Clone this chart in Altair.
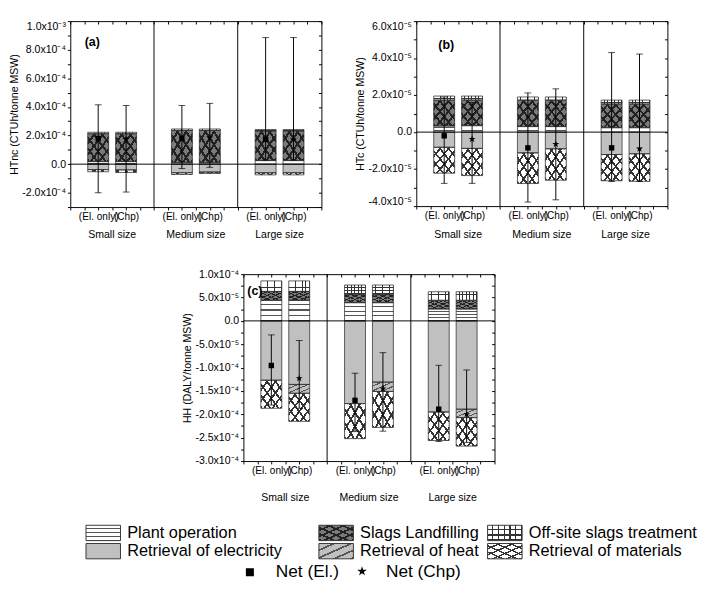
import altair as alt
import pandas as pd

FONT = "Liberation Sans"
CLEAR = "rgba(0,0,0,0)"
STAR = ("M0,-1L0.2245,-0.309L0.951,-0.309L0.363,0.118L0.588,0.809L0,0.382"
        "L-0.588,0.809L-0.363,0.118L-0.951,-0.309L-0.2245,-0.309Z")

# ---------------- data ----------------
bar_labels = ["(El. only)", "(Chp)", "(El. only)", "(Chp)", "(El. only)", "(Chp)"]
bar_kind = ["El", "Chp", "El", "Chp", "El", "Chp"]
bar_pos = [2, 4, 8, 10, 14, 16]
group_names = ["Small size", "Medium size", "Large size"]
group_pos = [3, 9, 15]
separators = [6, 12]
categories = ["Plant operation", "Slags Landfilling", "Off-site slags treatment",
              "Retrieval of electricity", "Retrieval of heat", "Retrieval of materials"]

# Panel (a): HTnc, in 1e-4 CTUh/tonne MSW
a_plant = [0.18, 0.18, 0.10, 0.10, 0.25, 0.25]
a_slags = [1.95, 1.95, 2.26, 2.26, 2.07, 2.07]
a_offsite = [0.10, 0.10, 0.10, 0.10, 0.10, 0.10]
a_elec = [-0.38, -0.40, -0.60, -0.55, -0.60, -0.60]
a_heat = [0, 0, 0, 0, 0, 0]
a_mat = [-0.15, -0.18, -0.12, -0.10, -0.15, -0.15]
a_net = [1.79, 1.75, 1.80, 1.85, 1.74, 1.74]
a_lo = [-2.00, -1.95, -0.31, -0.22, 0.29, 0.29]
a_hi = [4.15, 4.10, 4.10, 4.25, 8.85, 8.85]
a_ticks = [-3, -2, -1, 0, 1, 2, 3, 4, 5, 6, 7, 8, 9, 10]
a_label_vals = [-2, 0, 2, 4, 6, 8, 10]
a_label_txt = ["-2.0x10⁻⁴", "0.0", "2.0x10⁻⁴", "4.0x10⁻⁴", "6.0x10⁻⁴", "8.0x10⁻⁴", "1.0x10⁻³"]

# Panel (b): HTc, in 1e-5 CTUh/tonne MSW
b_plant = [0.33, 0.35, 0.30, 0.30, 0.24, 0.24]
b_slags = [1.40, 1.38, 1.43, 1.43, 1.28, 1.28]
b_offsite = [0.22, 0.22, 0.17, 0.17, 0.21, 0.21]
b_elec = [-0.82, -0.88, -1.12, -0.90, -1.21, -1.17]
b_heat = [0, 0, 0, 0, 0, 0]
b_mat = [-1.40, -1.47, -1.66, -1.70, -1.42, -1.49]
b_net = [-0.20, -0.38, -0.85, -0.65, -0.85, -0.90]
b_lo = [-2.77, -2.77, -3.78, -3.66, -2.67, -2.67]
b_hi = [1.90, 1.60, 2.12, 2.34, 4.30, 4.22]
b_ticks = [-4, -3, -2, -1, 0, 1, 2, 3, 4, 5, 6]
b_label_vals = [-4, -2, 0, 2, 4, 6]
b_label_txt = ["-4.0x10⁻⁵", "-2.0x10⁻⁵", "0.0", "2.0x10⁻⁵", "4.0x10⁻⁵", "6.0x10⁻⁵"]

# Panel (c): HH, in 1e-5 DALY/tonne MSW
c_plant = [4.40, 4.40, 3.90, 3.90, 2.55, 2.55]
c_slags = [1.90, 1.90, 1.86, 1.86, 1.85, 1.85]
c_offsite = [2.26, 2.26, 1.92, 1.92, 1.84, 1.84]
c_elec = [-12.7, -13.6, -17.7, -13.1, -19.5, -18.9]
c_heat = [0, -1.9, 0, -2.0, 0, -1.8]
c_mat = [-6.0, -6.0, -7.5, -7.7, -6.1, -6.1]
c_net = [-9.55, -12.3, -17.0, -14.5, -18.9, -20.0]
c_lo = [-18.0, -18.7, -23.7, -23.6, -25.8, -26.0]
c_hi = [-3.0, -4.2, -11.2, -6.8, -9.5, -10.5]
c_ticks = [-30, -27.5, -25, -22.5, -20, -17.5, -15, -12.5, -10, -7.5, -5, -2.5, 0, 2.5, 5, 7.5, 10]
c_label_vals = [-30, -25, -20, -15, -10, -5, 0, 5, 10]
c_label_txt = ["-3.0x10⁻⁴", "-2.5x10⁻⁴", "-2.0x10⁻⁴", "-1.5x10⁻⁴", "-1.0x10⁻⁴",
               "-5.0x10⁻⁵", "0.0", "5.0x10⁻⁵", "1.0x10⁻⁴"]

x_ticks = list(range(0, 19))


# ---------------- styles (hatch patterns built from gradients) ----------------
def stop(color, offset):
    return alt.GradientStop(color=color, offset=round(offset, 4))


def stripes(direction, n, line, frac, bg=CLEAR):
    x1, y1, x2, y2 = {"h": (0, 0, 0, 1), "v": (0, 0, 1, 0),
                      "d1": (0, 0, 1, 1), "d2": (1, 0, 0, 1)}[direction]
    stops = []
    for i in range(n):
        a = i / n
        m = (i + 1 - frac) / n
        c = (i + 1) / n
        stops += [stop(bg, a), stop(bg, m), stop(line, m), stop(line, c)]
    return alt.LinearGradient(gradient="linear", stops=stops, x1=x1, y1=y1, x2=x2, y2=y2)


STYLES = {
    "Plant operation": [stripes("h", 4, "#555555", 0.22, "white")],
    "Slags Landfilling": ["#7a7a7a", stripes("d1", 5, "#222222", 0.3), stripes("d2", 5, "#222222", 0.3)],
    "Off-site slags treatment": ["white", stripes("h", 3, "#333333", 0.25), stripes("v", 6, "#333333", 0.2)],
    "Retrieval of electricity": ["#c0c0c0"],
    "Retrieval of heat": ["#c0c0c0", stripes("d1", 4, "#555555", 0.25)],
    "Retrieval of materials": ["white", stripes("d1", 5, "#333333", 0.25), stripes("d2", 5, "#333333", 0.25)],
}


def label_expr(vals, texts):
    expr = "''"
    for v, t in reversed(list(zip(vals, texts))):
        expr = f"(datum.value == {v}) ? '{t}' : {expr}"
    return expr


def panel(series, net, lo, hi, ydomain, yticks, ylab_vals, ylab_txt, ytitle, letter,
          width, height, letter_xy, group_dy, flush, left_pad=None):
    rows = []
    for i in range(6):
        for ci, cat in enumerate(categories):
            rows.append(dict(bar=i, pos=bar_pos[i], cat=cat, order=ci, value=series[ci][i]))
    seg = pd.DataFrame(rows)
    err = pd.DataFrame(dict(pos=bar_pos, lo=lo, hi=hi, net=net, kind=bar_kind))
    grp = pd.DataFrame(dict(gpos=group_pos, gname=group_names))
    sep = pd.DataFrame(dict(s=separators))
    zero = pd.DataFrame(dict(z=[0]))

    xs = alt.Scale(domain=[0, 18], nice=False, zero=False)
    ys = alt.Scale(domain=ydomain, nice=False, zero=False)

    base = (alt.Chart(seg)
            .transform_filter("datum.value != 0")
            .transform_stack(stack="value", groupby=["bar"], as_=["y0", "y1"],
                             sort=[alt.SortField(field="order", order="ascending")])
            .transform_calculate(xl="datum.pos - 0.75", xr="datum.pos + 0.75"))

    def enc(ch, xaxis=None, yaxis=None):
        return ch.encode(
            x=alt.X("xl:Q", scale=xs, axis=xaxis), x2=alt.X2("xr"),
            y=alt.Y("y0:Q", scale=ys, axis=yaxis), y2=alt.Y2("y1"))

    layers = []
    for cat in categories:
        for fill in STYLES[cat]:
            layers.append(enc(base.transform_filter(f"datum.cat == '{cat}'")
                              .mark_rect(fill=fill, strokeWidth=0)))

    left_axis = alt.Axis(orient="left", values=yticks, labelExpr=label_expr(ylab_vals, ylab_txt),
                         title=ytitle, tickSize=3, labelPadding=2, domain=False, grid=False,
                         titlePadding=3, labelOverlap=False, labelFlush=flush)
    bottom_axis = alt.Axis(orient="bottom", values=x_ticks,
                           labelExpr=label_expr(bar_pos, bar_labels), tickSize=3, labelPadding=2,
                           domain=False, grid=False, title=None, labelOverlap=False,
                           labelFlush=False, labelFontSize=10.5)
    top_axis = alt.Axis(orient="top", values=x_ticks, labels=False, tickSize={"expr": "-3"},
                        domain=False, grid=False, title=None)
    right_axis = alt.Axis(orient="right", values=yticks, labels=False, tickSize={"expr": "-3"},
                          domain=False, grid=False, title=None)

    layers.append(enc(base.mark_rect(fill="transparent", stroke="#333333", strokeWidth=0.8),
                      bottom_axis, left_axis))

    layers.append(alt.Chart(zero).mark_rule(color="black", strokeWidth=1)
                  .encode(y=alt.Y("z:Q", scale=ys, axis=None)))
    layers.append(alt.Chart(sep).mark_rule(color="black", strokeWidth=1)
                  .encode(x=alt.X("s:Q", scale=xs, axis=None)))

    eb = alt.Chart(err)
    layers.append(eb.mark_rule(color="black", strokeWidth=1).encode(
        x=alt.X("pos:Q", scale=xs, axis=top_axis),
        y=alt.Y("lo:Q", scale=ys, axis=right_axis), y2=alt.Y2("hi")))
    for f in ["lo", "hi"]:
        layers.append(eb.mark_tick(orient="horizontal", size=7, thickness=1, color="black").encode(
            x=alt.X("pos:Q", scale=xs, axis=None), y=alt.Y(f"{f}:Q", scale=ys, axis=None)))
    layers.append(eb.transform_filter("datum.kind == 'El'")
                  .mark_point(shape="square", filled=True, size=32, color="black", opacity=1)
                  .encode(x=alt.X("pos:Q", scale=xs, axis=None), y=alt.Y("net:Q", scale=ys, axis=None)))
    layers.append(eb.transform_filter("datum.kind == 'Chp'")
                  .mark_point(shape=STAR, filled=True, size=60, color="black", opacity=1)
                  .encode(x=alt.X("pos:Q", scale=xs, axis=None), y=alt.Y("net:Q", scale=ys, axis=None)))

    layers.append(alt.Chart(grp).mark_text(fontSize=11, baseline="middle", font=FONT, color="black")
                  .encode(x=alt.X("gpos:Q", scale=xs, axis=None), y=alt.value(height + group_dy),
                          text="gname:N"))
    layers.append(alt.Chart(pd.DataFrame(dict(t=[letter])))
                  .mark_text(fontSize=13, fontWeight="bold", align="left", baseline="middle",
                             font=FONT, color="black")
                  .encode(text="t:N", x=alt.value(letter_xy[0]), y=alt.value(letter_xy[1])))
    if left_pad is not None:
        # invisible spacer so that the centred panel sits where the reference has it
        layers.append(alt.Chart(pd.DataFrame(dict(t=[letter])))
                      .mark_point(size=1, opacity=0)
                      .encode(x=alt.value(-left_pad), y=alt.value(height / 2)))

    return (alt.layer(*layers)
            .resolve_scale(x="shared", y="shared")
            .resolve_axis(x="independent", y="independent")
            .properties(width=width, height=height))


pa = panel([a_plant, a_slags, a_offsite, a_elec, a_heat, a_mat], a_net, a_lo, a_hi,
           [-3, 10], a_ticks, a_label_vals, a_label_txt, "HTnc (CTUh/tonne MSW)", "(a)",
           262, 194, (15, 22), 29, True)
pb = panel([b_plant, b_slags, b_offsite, b_elec, b_heat, b_mat], b_net, b_lo, b_hi,
           [-4, 6], b_ticks, b_label_vals, b_label_txt, "HTc (CTUh/tonne MSW)", "(b)",
           262, 193, (23, 25), 30, True)
pc = panel([c_plant, c_slags, c_offsite, c_elec, c_heat, c_mat], c_net, c_lo, c_hi,
           [-30, 10], c_ticks, c_label_vals, c_label_txt, "HH (DALY/tonne MSW)", "(c)",
           262, 195, (4, 18), 39, False, left_pad=75)

# ---------------- legend ----------------
leg_cols = [49, 292, 468]
leg_rows = [7, 26]
leg_order = [["Plant operation", "Retrieval of electricity"],
             ["Slags Landfilling", "Retrieval of heat"],
             ["Off-site slags treatment", "Retrieval of materials"]]
net_labels = ["Net (El.)", "Net (Chp)"]

leg_layers = []
for ci, col in enumerate(leg_order):
    for ri, cat in enumerate(col):
        d = alt.Chart(pd.DataFrame(dict(name=[cat])))
        x0, y0 = leg_cols[ci], leg_rows[ri]
        for fill in STYLES[cat]:
            leg_layers.append(d.mark_rect(fill=fill, strokeWidth=0).encode(
                x=alt.value(x0), x2=alt.value(x0 + 36), y=alt.value(y0), y2=alt.value(y0 + 16)))
        leg_layers.append(d.mark_rect(fill="transparent", stroke="#333333", strokeWidth=1).encode(
            x=alt.value(x0), x2=alt.value(x0 + 36), y=alt.value(y0), y2=alt.value(y0 + 16)))
        leg_layers.append(d.mark_text(fontSize=17, align="left", baseline="middle", font=FONT,
                                      color="black").encode(
            text="name:N", x=alt.value(x0 + 43), y=alt.value(y0 + 8.5)))

leg_layers.append(alt.Chart(pd.DataFrame(dict(name=[net_labels[0]])))
                  .mark_point(shape="square", filled=True, size=70, color="black", opacity=1)
                  .encode(x=alt.value(220), y=alt.value(56)))
leg_layers.append(alt.Chart(pd.DataFrame(dict(name=[net_labels[0]])))
                  .mark_text(fontSize=18, align="left", baseline="middle", font=FONT, color="black")
                  .encode(text="name:N", x=alt.value(247), y=alt.value(56)))
leg_layers.append(alt.Chart(pd.DataFrame(dict(name=[net_labels[1]])))
                  .mark_point(shape=STAR, filled=True, size=110, color="black", opacity=1)
                  .encode(x=alt.value(337), y=alt.value(55)))
leg_layers.append(alt.Chart(pd.DataFrame(dict(name=[net_labels[1]])))
                  .mark_text(fontSize=18, align="left", baseline="middle", font=FONT, color="black")
                  .encode(text="name:N", x=alt.value(362), y=alt.value(56)))

legend = alt.layer(*leg_layers).properties(width=689, height=64,
                                           view=alt.ViewBackground(stroke="transparent"))

row1 = alt.hconcat(pa, pb, spacing=33)
lower = alt.vconcat(pc, legend, spacing=14, center=True)
chart = (alt.vconcat(row1, lower, spacing=28, center=True)
         .properties(padding=0)
         .configure_view(stroke="black", strokeWidth=1)
         .configure_axis(labelFont=FONT, titleFont=FONT, labelColor="black", titleColor="black",
                         tickColor="black", labelFontSize=11, titleFontSize=11,
                         titleFontWeight="normal", grid=False))

chart.save("out.html", embed_options={"renderer": "svg", "actions": False})
